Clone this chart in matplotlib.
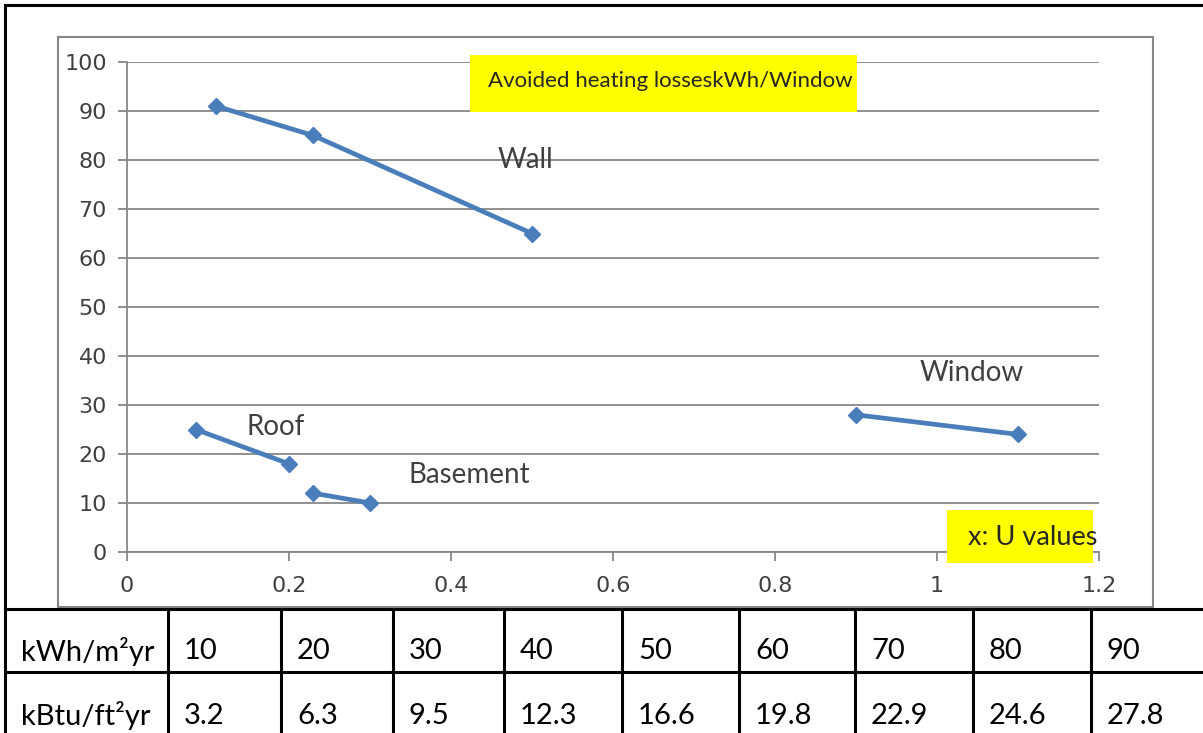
import matplotlib

matplotlib.use("Agg")
import matplotlib.pyplot as plt
from matplotlib.patches import Rectangle
from matplotlib.lines import Line2D

# --- data ---
wall_u = [0.11, 0.23, 0.5]
wall_loss = [91, 85, 65]
roof_u = [0.085, 0.2]
roof_loss = [25, 18]
basement_u = [0.23, 0.3]
basement_loss = [12, 10]
window_u = [0.9, 1.1]
window_loss = [28, 24]

x_ticks = [0, 0.2, 0.4, 0.6, 0.8, 1.0, 1.2]
x_tick_labels = ["0", "0.2", "0.4", "0.6", "0.8", "1", "1.2"]
y_ticks = list(range(0, 101, 10))

row_labels = ["kWh/m²yr", "kBtu/ft²yr"]
kwh_values = ["10", "20", "30", "40", "50", "60", "70", "80", "90"]
kbtu_values = ["3.2", "6.3", "9.5", "12.3", "16.6", "19.8", "22.9", "24.6", "27.8"]

LINE = "#4a7ebb"
GRID = "#878787"
TEXT = "#404040"
YELLOW = "#ffff00"
FONT = "Lato"

W, H = 1203, 733
fig = plt.figure(figsize=(W / 100, H / 100), dpi=100)


def px(x, y):
    # pixel (from top-left) -> figure fraction
    return x / W, 1 - y / H


# chart area frame (Excel chart object)
fig.patches.append(Rectangle(px(58, 607), (1153 - 58) / W, (607 - 37) / H,
                             transform=fig.transFigure, facecolor="none",
                             edgecolor=GRID, linewidth=1.5, zorder=-1))

left, right, top, bottom = 127, 1099, 62, 552
ax = fig.add_axes([left / W, 1 - bottom / H, (right - left) / W, (bottom - top) / H])
ax.set_xlim(0, 1.2)
ax.set_ylim(0, 100)
ax.set_facecolor("none")

for u, loss in [(wall_u, wall_loss), (roof_u, roof_loss),
                (basement_u, basement_loss), (window_u, window_loss)]:
    ax.plot(u, loss, color=LINE, linewidth=3.4, marker="D", markersize=8,
            markeredgecolor=LINE, solid_capstyle="round", zorder=3)

ax.set_xticks(x_ticks)
ax.set_xticklabels(x_tick_labels)
ax.set_yticks(y_ticks)
ax.grid(axis="y", color=GRID, linewidth=1.3)
ax.set_axisbelow(True)
ax.spines[["top", "right"]].set_visible(False)
ax.spines[["left", "bottom"]].set_color(GRID)
ax.spines[["left", "bottom"]].set_linewidth(1.3)
ax.tick_params(axis="both", direction="out", length=6.5, width=1.3, color=GRID,
               labelcolor=TEXT, labelsize=16)
ax.tick_params(axis="y", pad=8)
ax.tick_params(axis="x", pad=11)

# series labels
ax.text(0.457, 80, "Wall", fontsize=20, color=TEXT, family=FONT, va="center")
ax.text(0.979, 36.5, "Window", fontsize=20, color=TEXT, family=FONT, va="center")
ax.text(0.148, 25.5, "Roof", fontsize=20, color=TEXT, family=FONT, va="center")
ax.text(0.347, 15.7, "Basement", fontsize=20, color=TEXT, family=FONT, va="center")

# yellow title box
ax.add_patch(Rectangle((0.4235, 89.8), 0.4775, 11.6, facecolor=YELLOW,
                       edgecolor="none", clip_on=False, zorder=4))
ax.text(0.446, 96.2, "Avoided heating losseskWh/Window", fontsize=16,
        color="#262626", family=FONT, va="center", zorder=5)

# yellow axis-name box
ax.add_patch(Rectangle((1.012, -2.24), 0.181, 10.8, facecolor=YELLOW,
                       edgecolor="none", clip_on=False, zorder=4))
ax.text(1.038, 2.9, "x: U values", fontsize=19.5, color="#262626", family=FONT,
        va="center", clip_on=False, zorder=5)

# --- conversion table under the chart ---
col_edges = [5, 168, 281, 393, 504, 622, 739, 855, 973, 1091, 1215]
row_edges = [609, 672, 740]


def hline(y, x0, x1):
    fig.add_artist(Line2D([x0 / W, x1 / W], [1 - y / H, 1 - y / H], color="black",
                          linewidth=2.2, transform=fig.transFigure))


def vline(x, y0, y1):
    fig.add_artist(Line2D([x / W, x / W], [1 - y0 / H, 1 - y1 / H], color="black",
                          linewidth=2.2, transform=fig.transFigure))


hline(5, 5, W)
vline(5, 5, H)
for y in row_edges:
    hline(y, 5, W)
for x in col_edges[1:]:
    vline(x, row_edges[0], H)

rows = [[row_labels[0]] + kwh_values, [row_labels[1]] + kbtu_values]
for r, cells in enumerate(rows):
    yc = (651, 716)[r]
    for c, txt in enumerate(cells):
        fig.text((col_edges[c] + 16) / W, 1 - yc / H, txt, fontsize=21,
                 family=FONT, color="black", va="center", ha="left")

fig.savefig("out.png", dpi=100, facecolor="white")
